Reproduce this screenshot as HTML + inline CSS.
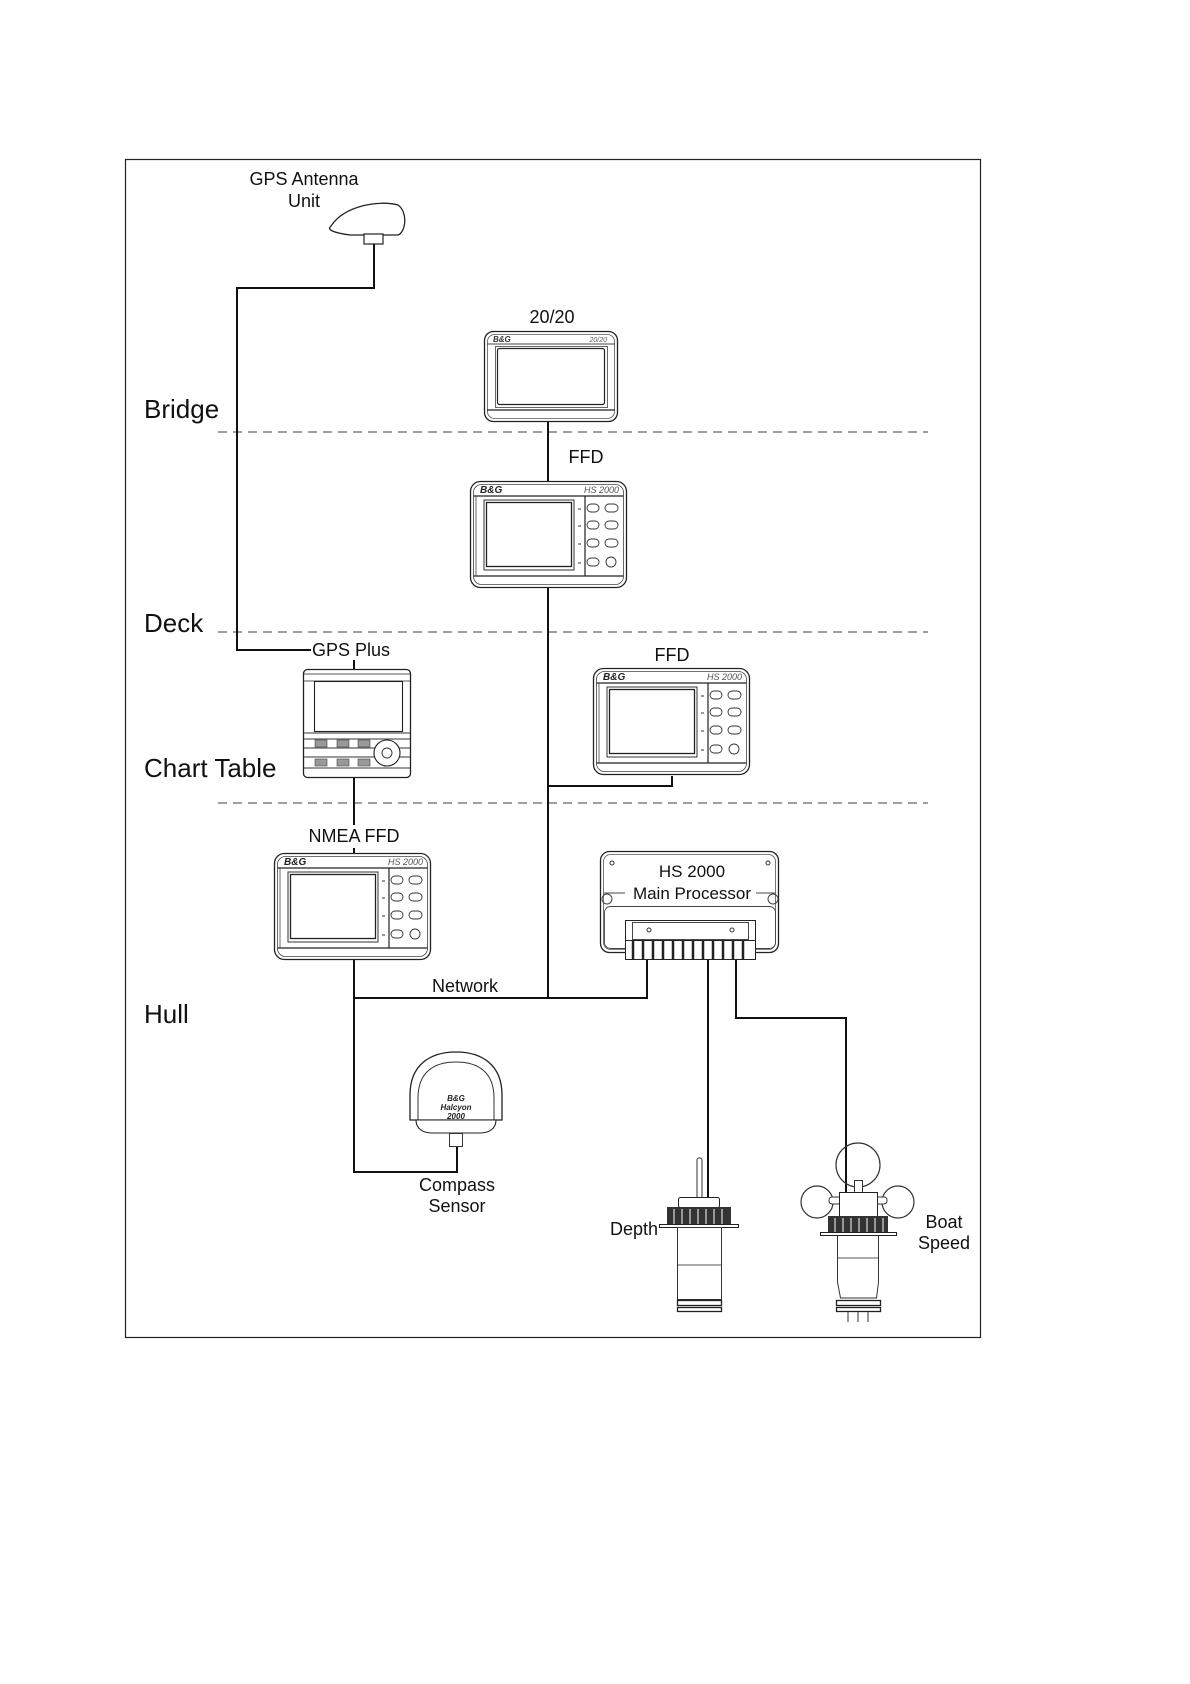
<!DOCTYPE html>
<html><head><meta charset="utf-8"><style>
html,body{margin:0;padding:0;background:#fff;}
svg{display:block;font-family:"Liberation Sans",sans-serif;}
</style></head><body>
<svg width="1190" height="1684" viewBox="0 0 1190 1684" xmlns="http://www.w3.org/2000/svg">
<defs>
<g id="ffd">
  <rect x="0.5" y="0.5" width="156" height="106" rx="10" fill="#fff" stroke="#222" stroke-width="1.3"/>
  <rect x="3.5" y="3.5" width="150" height="100" rx="8" fill="none" stroke="#444" stroke-width="0.8"/>
  <line x1="3.5" y1="15" x2="153.5" y2="15" stroke="#222" stroke-width="1.2"/>
  <line x1="3.5" y1="95" x2="153.5" y2="95" stroke="#222" stroke-width="1.2"/>
  <line x1="6" y1="15" x2="6" y2="95" stroke="#444" stroke-width="0.8"/>
  <text x="10" y="12" font-size="10" font-weight="bold" font-style="italic" fill="#222">B&amp;G</text>
  <text x="149" y="12" font-size="9" font-style="italic" fill="#555" text-anchor="end">HS 2000</text>
  <rect x="14" y="19" width="90" height="70" fill="none" stroke="#333" stroke-width="1"/>
  <rect x="16.5" y="21.5" width="85" height="64" fill="#fff" stroke="#222" stroke-width="1.3"/>
  <line x1="115" y1="15" x2="115" y2="95" stroke="#222" stroke-width="1.2"/>
  <g stroke="#333" stroke-width="1">
    <line x1="108" y1="28" x2="111" y2="28"/><line x1="108" y1="45" x2="111" y2="45"/>
    <line x1="108" y1="63" x2="111" y2="63"/><line x1="108" y1="82" x2="111" y2="82"/>
  </g>
  <g fill="none" stroke="#333" stroke-width="0.9">
    <rect x="117" y="23" width="12" height="8" rx="4"/><rect x="135" y="23" width="13" height="8" rx="4"/>
    <rect x="117" y="40" width="12" height="8" rx="4"/><rect x="135" y="40" width="13" height="8" rx="4"/>
    <rect x="117" y="58" width="12" height="8" rx="4"/><rect x="135" y="58" width="13" height="8" rx="4"/>
    <rect x="117" y="77" width="12" height="8" rx="4"/><circle cx="141" cy="81" r="5"/>
  </g>
</g>
</defs>

<!-- frame -->
<rect x="125.5" y="159.5" width="855" height="1178" fill="none" stroke="#222" stroke-width="1.2"/>

<!-- dashed zone lines -->
<g stroke="#666" stroke-width="1.3" stroke-dasharray="9,6">
  <line x1="218" y1="432" x2="928" y2="432"/>
  <line x1="218" y1="632" x2="928" y2="632"/>
  <line x1="218" y1="803" x2="928" y2="803"/>
</g>

<!-- zone labels -->
<g font-size="26" fill="#111">
  <text x="144" y="418">Bridge</text>
  <text x="144" y="632">Deck</text>
  <text x="144" y="777">Chart Table</text>
  <text x="144" y="1023">Hull</text>
</g>

<!-- connectors -->
<g fill="none" stroke="#111" stroke-width="2">
  <polyline points="374,244 374,288 237,288 237,650 311,650"/>
  <line x1="354" y1="660" x2="354" y2="669"/>
  <line x1="354" y1="777" x2="354" y2="825"/>
  <line x1="354" y1="848" x2="354" y2="853"/>
  <line x1="548" y1="422" x2="548" y2="481"/>
  <line x1="548" y1="588" x2="548" y2="998"/>
  <polyline points="548,786 672,786 672,776"/>
  <polyline points="354,960 354,1172 457,1172 457,1147"/>
  <polyline points="354,998 647,998 647,960"/>
  <line x1="708" y1="960" x2="708" y2="1197"/>
  <polyline points="736,960 736,1018 846,1018 846,1192"/>
</g>

<!-- GPS antenna -->
<path d="M331,226 C345,205 380,200 398,205 C408,212 406,232 398,235 L350,235 C335,233 326,230 331,226 Z" fill="#fff" stroke="#222" stroke-width="1.3"/>
<rect x="364" y="234" width="19" height="10" fill="#fff" stroke="#222" stroke-width="1.2"/>
<g font-size="18" fill="#111" text-anchor="middle">
  <text x="304" y="185">GPS Antenna</text>
  <text x="304" y="207">Unit</text>
</g>

<!-- 20/20 -->
<text x="552" y="323" font-size="18" text-anchor="middle" fill="#111">20/20</text>
<rect x="484.5" y="331.5" width="133" height="90" rx="9" fill="#fff" stroke="#222" stroke-width="1.3"/>
<rect x="487.5" y="334.5" width="127" height="84" rx="7" fill="none" stroke="#555" stroke-width="0.8"/>
<line x1="487" y1="344" x2="615" y2="344" stroke="#444" stroke-width="1"/>
<line x1="487" y1="410" x2="615" y2="410" stroke="#222" stroke-width="1.2"/>
<text x="493" y="342" font-size="8" font-weight="bold" font-style="italic" fill="#333">B&amp;G</text>
<text x="607" y="342" font-size="7" font-style="italic" fill="#555" text-anchor="end">20/20</text>
<rect x="495.5" y="346.5" width="112" height="61" fill="none" stroke="#666" stroke-width="1"/>
<rect x="497.5" y="348.5" width="107" height="56" rx="2" fill="#fff" stroke="#222" stroke-width="1.2"/>

<!-- FFD 1 -->
<text x="586" y="463" font-size="18" text-anchor="middle" fill="#111">FFD</text>
<use href="#ffd" x="470" y="481"/>

<!-- FFD 2 -->
<text x="672" y="661" font-size="18" text-anchor="middle" fill="#111">FFD</text>
<use href="#ffd" x="593" y="668"/>

<!-- NMEA FFD -->
<text x="354" y="842" font-size="18" text-anchor="middle" fill="#111">NMEA FFD</text>
<use href="#ffd" x="274" y="853"/>

<!-- GPS Plus -->
<text x="312" y="656" font-size="18" fill="#111">GPS Plus</text>
<rect x="303.5" y="669.5" width="107" height="108" rx="4" fill="#fff" stroke="#222" stroke-width="1.3"/>
<line x1="304" y1="674" x2="410" y2="674" stroke="#555"/>
<line x1="304" y1="681" x2="410" y2="681" stroke="#555"/>
<rect x="314.5" y="681.5" width="88" height="50" fill="#fff" stroke="#222" stroke-width="1.1"/>
<line x1="304" y1="733" x2="410" y2="733" stroke="#333"/>
<line x1="304" y1="739" x2="410" y2="739" stroke="#333"/>
<line x1="304" y1="748" x2="410" y2="748" stroke="#333"/>
<line x1="304" y1="757" x2="410" y2="757" stroke="#333"/>
<line x1="304" y1="768" x2="410" y2="768" stroke="#333"/>
<g fill="#999" stroke="#444" stroke-width="0.6">
  <rect x="315" y="740" width="12" height="7"/><rect x="337" y="740" width="12" height="7"/><rect x="358" y="740" width="12" height="7"/>
  <rect x="315" y="759" width="12" height="7"/><rect x="337" y="759" width="12" height="7"/><rect x="358" y="759" width="12" height="7"/>
</g>
<circle cx="387" cy="753" r="13" fill="#fff" stroke="#222" stroke-width="1.1"/>
<circle cx="387" cy="753" r="5" fill="#fff" stroke="#333" stroke-width="0.9"/>

<!-- Main Processor -->
<rect x="600.5" y="851.5" width="178" height="101" rx="9" fill="#fff" stroke="#222" stroke-width="1.3"/>
<rect x="603.5" y="854.5" width="172" height="95" rx="7" fill="none" stroke="#555" stroke-width="0.8"/>
<path d="M604,893 L625,893 M756,893 L775,893" stroke="#444" stroke-width="1"/>
<rect x="604.5" y="906.5" width="171" height="42" rx="6" fill="none" stroke="#444" stroke-width="0.9"/>
<circle cx="612" cy="863" r="2" fill="none" stroke="#333"/>
<circle cx="768" cy="863" r="2" fill="none" stroke="#333"/>
<circle cx="607" cy="899" r="5" fill="none" stroke="#444"/>
<circle cx="773" cy="899" r="5" fill="none" stroke="#444"/>
<g font-size="17" fill="#111" text-anchor="middle">
  <text x="692" y="877">HS 2000</text>
  <text x="692" y="899">Main Processor</text>
</g>
<rect x="625.5" y="920.5" width="130" height="20" fill="#fff" stroke="#222" stroke-width="1"/>
<rect x="632.5" y="922.5" width="116" height="17" fill="none" stroke="#333" stroke-width="0.9"/>
<circle cx="649" cy="930" r="2" fill="none" stroke="#333"/>
<circle cx="732" cy="930" r="2" fill="none" stroke="#333"/>
<rect x="625.5" y="940.5" width="130" height="19" fill="#fff" stroke="#222" stroke-width="1"/>
<g stroke="#222" stroke-width="2.5">
  <line x1="633" y1="941" x2="633" y2="959"/><line x1="643" y1="941" x2="643" y2="959"/>
  <line x1="653" y1="941" x2="653" y2="959"/><line x1="663" y1="941" x2="663" y2="959"/>
  <line x1="673" y1="941" x2="673" y2="959"/><line x1="683" y1="941" x2="683" y2="959"/>
  <line x1="693" y1="941" x2="693" y2="959"/><line x1="703" y1="941" x2="703" y2="959"/>
  <line x1="713" y1="941" x2="713" y2="959"/><line x1="723" y1="941" x2="723" y2="959"/>
  <line x1="733" y1="941" x2="733" y2="959"/><line x1="743" y1="941" x2="743" y2="959"/>
</g>

<text x="465" y="992" font-size="18" text-anchor="middle" fill="#111">Network</text>

<!-- Compass -->
<path d="M410,1120 L410,1095 C410,1065 430,1052 456,1052 C482,1052 502,1065 502,1095 L502,1120 Z" fill="#fff" stroke="#222" stroke-width="1.3"/>
<path d="M418,1120 L418,1098 C418,1072 434,1062 456,1062 C478,1062 494,1072 494,1098 L494,1120" fill="none" stroke="#333" stroke-width="1"/>
<path d="M416,1120 L496,1120 C496,1128 490,1133 480,1133 L432,1133 C422,1133 416,1128 416,1120 Z" fill="#fff" stroke="#222" stroke-width="1.1"/>
<rect x="449.5" y="1133.5" width="13" height="13" fill="#fff" stroke="#333"/>
<g font-size="8" font-weight="bold" font-style="italic" text-anchor="middle" fill="#222">
  <text x="456" y="1101">B&amp;G</text><text x="456" y="1110">Halcyon</text><text x="456" y="1119">2000</text>
</g>
<g font-size="18" fill="#111" text-anchor="middle">
  <text x="457" y="1191">Compass</text>
  <text x="457" y="1212">Sensor</text>
</g>

<!-- Depth -->
<rect x="697" y="1158" width="5" height="46" rx="2" fill="#fff" stroke="#333"/>
<rect x="678.5" y="1197.5" width="41" height="10" rx="2" fill="#fff" stroke="#222"/>
<rect x="667" y="1207" width="64" height="17" fill="#333"/>
<g stroke="#fff" stroke-width="1"><line x1="674" y1="1209" x2="674" y2="1224"/><line x1="682" y1="1209" x2="682" y2="1224"/><line x1="690" y1="1209" x2="690" y2="1224"/><line x1="698" y1="1209" x2="698" y2="1224"/><line x1="706" y1="1209" x2="706" y2="1224"/><line x1="714" y1="1209" x2="714" y2="1224"/><line x1="722" y1="1209" x2="722" y2="1224"/></g>
<rect x="659.5" y="1224.5" width="79" height="3" fill="#fff" stroke="#222"/>
<rect x="677.5" y="1227.5" width="44" height="72" fill="#fff" stroke="#333"/>
<line x1="678" y1="1265" x2="721" y2="1265" stroke="#555"/>
<rect x="677.5" y="1300.5" width="44" height="5" fill="#fff" stroke="#222" stroke-width="1.3"/>
<rect x="677.5" y="1307.5" width="44" height="4" fill="#fff" stroke="#222" stroke-width="1.3"/>
<text x="658" y="1235" font-size="18" text-anchor="end" fill="#111">Depth</text>

<!-- Boat Speed -->
<circle cx="858" cy="1165" r="22" fill="none" stroke="#333" stroke-width="1.2"/>
<circle cx="817" cy="1202" r="16" fill="none" stroke="#333" stroke-width="1.2"/>
<circle cx="898" cy="1202" r="16" fill="none" stroke="#333" stroke-width="1.2"/>
<rect x="854.5" y="1180.5" width="8" height="12" fill="#fff" stroke="#333"/>
<rect x="829" y="1197" width="12" height="7" rx="3" fill="#fff" stroke="#333"/>
<rect x="875" y="1197" width="12" height="7" rx="3" fill="#fff" stroke="#333"/>
<rect x="839.5" y="1192.5" width="38" height="24" fill="#fff" stroke="#222"/>
<rect x="828" y="1216" width="60" height="16" fill="#333"/>
<g stroke="#fff" stroke-width="1"><line x1="835" y1="1218" x2="835" y2="1232"/><line x1="843" y1="1218" x2="843" y2="1232"/><line x1="851" y1="1218" x2="851" y2="1232"/><line x1="859" y1="1218" x2="859" y2="1232"/><line x1="867" y1="1218" x2="867" y2="1232"/><line x1="875" y1="1218" x2="875" y2="1232"/><line x1="883" y1="1218" x2="883" y2="1232"/></g>
<rect x="820.5" y="1232.5" width="76" height="3" fill="#fff" stroke="#222"/>
<path d="M837.5,1236 L837.5,1282 L840.5,1298 L876.5,1298 L878.5,1282 L878.5,1236" fill="#fff" stroke="#333"/>
<line x1="838" y1="1258" x2="878" y2="1258" stroke="#555"/>
<rect x="836.5" y="1300.5" width="44" height="5" fill="#fff" stroke="#222" stroke-width="1.3"/>
<rect x="836.5" y="1307.5" width="44" height="4" fill="#fff" stroke="#222" stroke-width="1.3"/>
<g stroke="#333"><line x1="848" y1="1312" x2="848" y2="1322"/><line x1="858" y1="1312" x2="858" y2="1322"/><line x1="868" y1="1312" x2="868" y2="1322"/></g>
<g font-size="18" fill="#111" text-anchor="middle">
  <text x="944" y="1228">Boat</text>
  <text x="944" y="1249">Speed</text>
</g>
</svg>
</body></html>
